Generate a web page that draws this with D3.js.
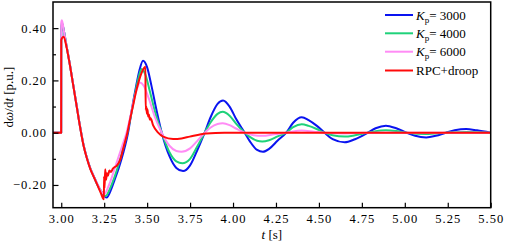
<!DOCTYPE html>
<html>
<head>
<meta charset="utf-8">
<script src="https://cdn.jsdelivr.net/npm/d3@7"></script>
<style>
  body { margin: 0; background: #fff; }
  svg text { font-family: "Liberation Serif", "Times New Roman", serif; fill: #000; }
</style>
</head>
<body>
<svg id="chart" width="505" height="245"></svg>
<script>
// [t, dω/dt] points
const kp3000 = [[2.952,0],[2.9995,0],[3.0,0.40],[3.006,0.415],[3.015,0.39],[3.03,0.335],[3.05,0.262],[3.07,0.182],[3.09,0.102],[3.11,0.022],[3.13,-0.048],[3.15,-0.098],[3.17,-0.138],[3.19,-0.168],[3.21,-0.198],[3.235,-0.228],[3.264,-0.248],[3.29,-0.218],[3.31,-0.182],[3.335,-0.135],[3.36,-0.08],[3.389,0],[3.41,0.085],[3.435,0.175],[3.455,0.238],[3.476,0.275],[3.50,0.25],[3.525,0.18],[3.555,0.085],[3.585,0],[3.63,-0.09],[3.67,-0.135],[3.709,-0.147],[3.75,-0.125],[3.79,-0.07],[3.835,0],[3.87,0.06],[3.91,0.11],[3.942,0.123],[3.98,0.10],[4.02,0.05],[4.068,0],[4.10,-0.035],[4.14,-0.066],[4.174,-0.073],[4.21,-0.062],[4.26,-0.03],[4.31,0],[4.35,0.038],[4.40,0.059],[4.44,0.048],[4.49,0.025],[4.533,0],[4.58,-0.025],[4.65,-0.037],[4.71,-0.025],[4.785,0],[4.83,0.017],[4.89,0.027],[4.95,0.017],[5.01,0],[5.06,-0.012],[5.125,-0.018],[5.18,-0.012],[5.24,0],[5.29,0.009],[5.357,0.014],[5.42,0.009],[5.5,0.0]];

const kp4000 = [[2.952,0],[2.9995,0],[3.0,0.41],[3.005,0.42],[3.015,0.39],[3.03,0.335],[3.05,0.262],[3.07,0.182],[3.09,0.102],[3.11,0.022],[3.13,-0.048],[3.15,-0.098],[3.17,-0.138],[3.19,-0.168],[3.21,-0.198],[3.235,-0.226],[3.258,-0.242],[3.285,-0.212],[3.31,-0.17],[3.335,-0.12],[3.36,-0.06],[3.385,0],[3.41,0.08],[3.43,0.15],[3.45,0.21],[3.467,0.244],[3.49,0.222],[3.515,0.16],[3.55,0.07],[3.585,0],[3.63,-0.075],[3.67,-0.11],[3.705,-0.117],[3.75,-0.10],[3.79,-0.055],[3.835,0],[3.87,0.04],[3.91,0.072],[3.94,0.080],[3.98,0.065],[4.02,0.033],[4.068,0],[4.10,-0.017],[4.14,-0.031],[4.17,-0.034],[4.21,-0.029],[4.26,-0.014],[4.31,0],[4.35,0.021],[4.40,0.032],[4.44,0.026],[4.49,0.013],[4.533,0],[4.58,-0.01],[4.65,-0.015],[4.71,-0.01],[4.785,0],[4.83,0.006],[4.89,0.009],[4.95,0.006],[5.01,0],[5.125,-0.005],[5.24,0],[5.357,0.003],[5.5,0]];

const kp6000 = [[2.952,0],[2.9995,0],[3.0,0.42],[3.004,0.43],[3.015,0.39],[3.03,0.335],[3.05,0.262],[3.07,0.182],[3.09,0.102],[3.11,0.022],[3.13,-0.048],[3.15,-0.098],[3.17,-0.138],[3.19,-0.168],[3.21,-0.196],[3.23,-0.222],[3.25,-0.235],[3.275,-0.205],[3.30,-0.16],[3.325,-0.11],[3.355,-0.05],[3.38,0],[3.405,0.07],[3.425,0.13],[3.442,0.17],[3.458,0.192],[3.48,0.18],[3.51,0.13],[3.545,0.06],[3.585,0],[3.63,-0.05],[3.67,-0.07],[3.70,-0.073],[3.75,-0.06],[3.79,-0.033],[3.835,0],[3.87,0.02],[3.91,0.033],[3.94,0.036],[3.98,0.029],[4.02,0.015],[4.068,0],[4.12,-0.01],[4.17,-0.012],[4.24,-0.006],[4.31,0],[4.40,0.008],[4.47,0.004],[4.533,0],[4.65,-0.003],[4.785,0],[5.5,0]];

const rpcDroop = [[2.952,0],[2.9995,0],[3.0,0.355],[3.014,0.367],[3.03,0.33],[3.05,0.26],[3.07,0.18],[3.09,0.10],[3.11,0.02],[3.13,-0.05],[3.15,-0.10],[3.17,-0.14],[3.19,-0.17],[3.21,-0.20],[3.23,-0.23],[3.248,-0.255],[3.2495,-0.168],[3.252,-0.212],[3.256,-0.14],[3.261,-0.18],[3.266,-0.155],[3.272,-0.165],[3.28,-0.145],[3.29,-0.15],[3.30,-0.138],[3.325,-0.125],[3.345,-0.1],[3.365,-0.05],[3.385,0],[3.40,0.049],[3.42,0.11],[3.438,0.164],[3.455,0.205],[3.467,0.228],[3.49,0.252],[3.4915,0.087],[3.495,0.10],[3.499,0.072],[3.502,0.09],[3.506,0.062],[3.51,0.07],[3.516,0.05],[3.52,0.055],[3.535,0.028],[3.564,0.0],[3.593,-0.015],[3.651,-0.024],[3.70,-0.022],[3.748,-0.015],[3.845,-0.003],[3.95,0],[5.5,0]];

const seriesNames = ['3000', '4000', '6000', 'RPC+droop'];
const seriesColors = ['#0a14f0', '#1fd27a', '#ff8cf5', '#ff0a0a'];
const xTicks = [3.0, 3.25, 3.5, 3.75, 4.0, 4.25, 4.5, 4.75, 5.0, 5.25, 5.5];
const yTicks = [-0.2, 0, 0.2, 0.4];
const yMinorTicks = [-0.1, 0.1, 0.3];

const allSeries = [kp3000, kp4000, kp6000, rpcDroop];

const margin = { left: 53, right: 490.7, top: 2, bottom: 207.7 };
const svg = d3.select('#chart');

const x = d3.scaleLinear().domain([2.952, 5.5]).range([margin.left, margin.right]);
const y = d3.scaleLinear().domain([-0.287, 0.50]).range([margin.bottom, margin.top]);

svg.append('defs').append('clipPath').attr('id', 'plotClip')
  .append('rect')
  .attr('x', margin.left).attr('y', margin.top)
  .attr('width', margin.right - margin.left)
  .attr('height', margin.bottom - margin.top);

// lines
const line = d3.line()
  .x(d => x(d[0]))
  .y(d => y(d[1]))
  .curve(d3.curveMonotoneX);

const plot = svg.append('g').attr('clip-path', 'url(#plotClip)');
allSeries.forEach((data, i) => {
  plot.append('path')
    .datum(data)
    .attr('fill', 'none')
    .attr('stroke', seriesColors[i])
    .attr('stroke-width', 2)
    .attr('stroke-linejoin', 'round')
    .attr('d', line);
});

// axes, ticks pointing inward
const fmt = d3.format('.2f');
svg.append('g')
  .attr('transform', `translate(0,${margin.bottom})`)
  .call(d3.axisBottom(x).tickValues(xTicks).tickFormat(fmt).tickSizeInner(-5).tickSizeOuter(0).tickPadding(6));

svg.append('g')
  .attr('transform', `translate(${margin.left},0)`)
  .call(d3.axisLeft(y).tickValues(yTicks).tickFormat(fmt).tickSizeInner(-5.5).tickSizeOuter(0).tickPadding(6));

svg.append('g')
  .attr('transform', `translate(${margin.left},0)`)
  .call(d3.axisLeft(y).tickValues(yMinorTicks).tickFormat('').tickSizeInner(-3).tickSizeOuter(0));

svg.selectAll('.domain').remove();
svg.selectAll('.tick line').attr('stroke', '#000').attr('stroke-width', 1.2);
svg.selectAll('.tick text')
  .attr('font-family', '"Liberation Serif", serif')
  .attr('font-size', 12.5)
  .attr('letter-spacing', '1px')
  .attr('fill', '#333');

// frame
svg.append('rect')
  .attr('x', margin.left).attr('y', margin.top)
  .attr('width', margin.right - margin.left)
  .attr('height', margin.bottom - margin.top)
  .attr('fill', 'none')
  .attr('stroke', '#000')
  .attr('stroke-width', 1.5);

// axis titles
const xTitle = svg.append('text')
  .attr('x', (margin.left + margin.right) / 2)
  .attr('y', 239)
  .attr('text-anchor', 'middle')
  .attr('font-size', 13);
xTitle.append('tspan').attr('font-style', 'italic').text('t');
xTitle.append('tspan').text(' [s]');

const yTitle = svg.append('text')
  .attr('transform', 'translate(13,97) rotate(-90)')
  .attr('text-anchor', 'middle')
  .attr('font-size', 13);
yTitle.append('tspan').text('d');
yTitle.append('tspan').attr('font-style', 'italic').text('ω');
yTitle.append('tspan').text('/d');
yTitle.append('tspan').attr('font-style', 'italic').text('t');
yTitle.append('tspan').text(' [p.u.]');

// legend
const legendRows = [15, 33.3, 51.7, 70.5];
seriesNames.forEach((name, i) => {
  const g = svg.append('g').attr('transform', `translate(385,${legendRows[i]})`);
  g.append('line')
    .attr('x1', 0).attr('x2', 28)
    .attr('y1', 0).attr('y2', 0)
    .attr('stroke', seriesColors[i])
    .attr('stroke-width', 2);
  const t = g.append('text')
    .attr('x', 31)
    .attr('y', 4.5)
    .attr('font-size', 13);
  if (i < 3) {
    t.append('tspan').attr('font-style', 'italic').text('K');
    t.append('tspan').attr('font-size', 9).attr('dy', 3).text('p');
    t.append('tspan').attr('dy', -3).text('= ' + name);
  } else {
    t.text(name);
  }
});
</script>
</body>
</html>
